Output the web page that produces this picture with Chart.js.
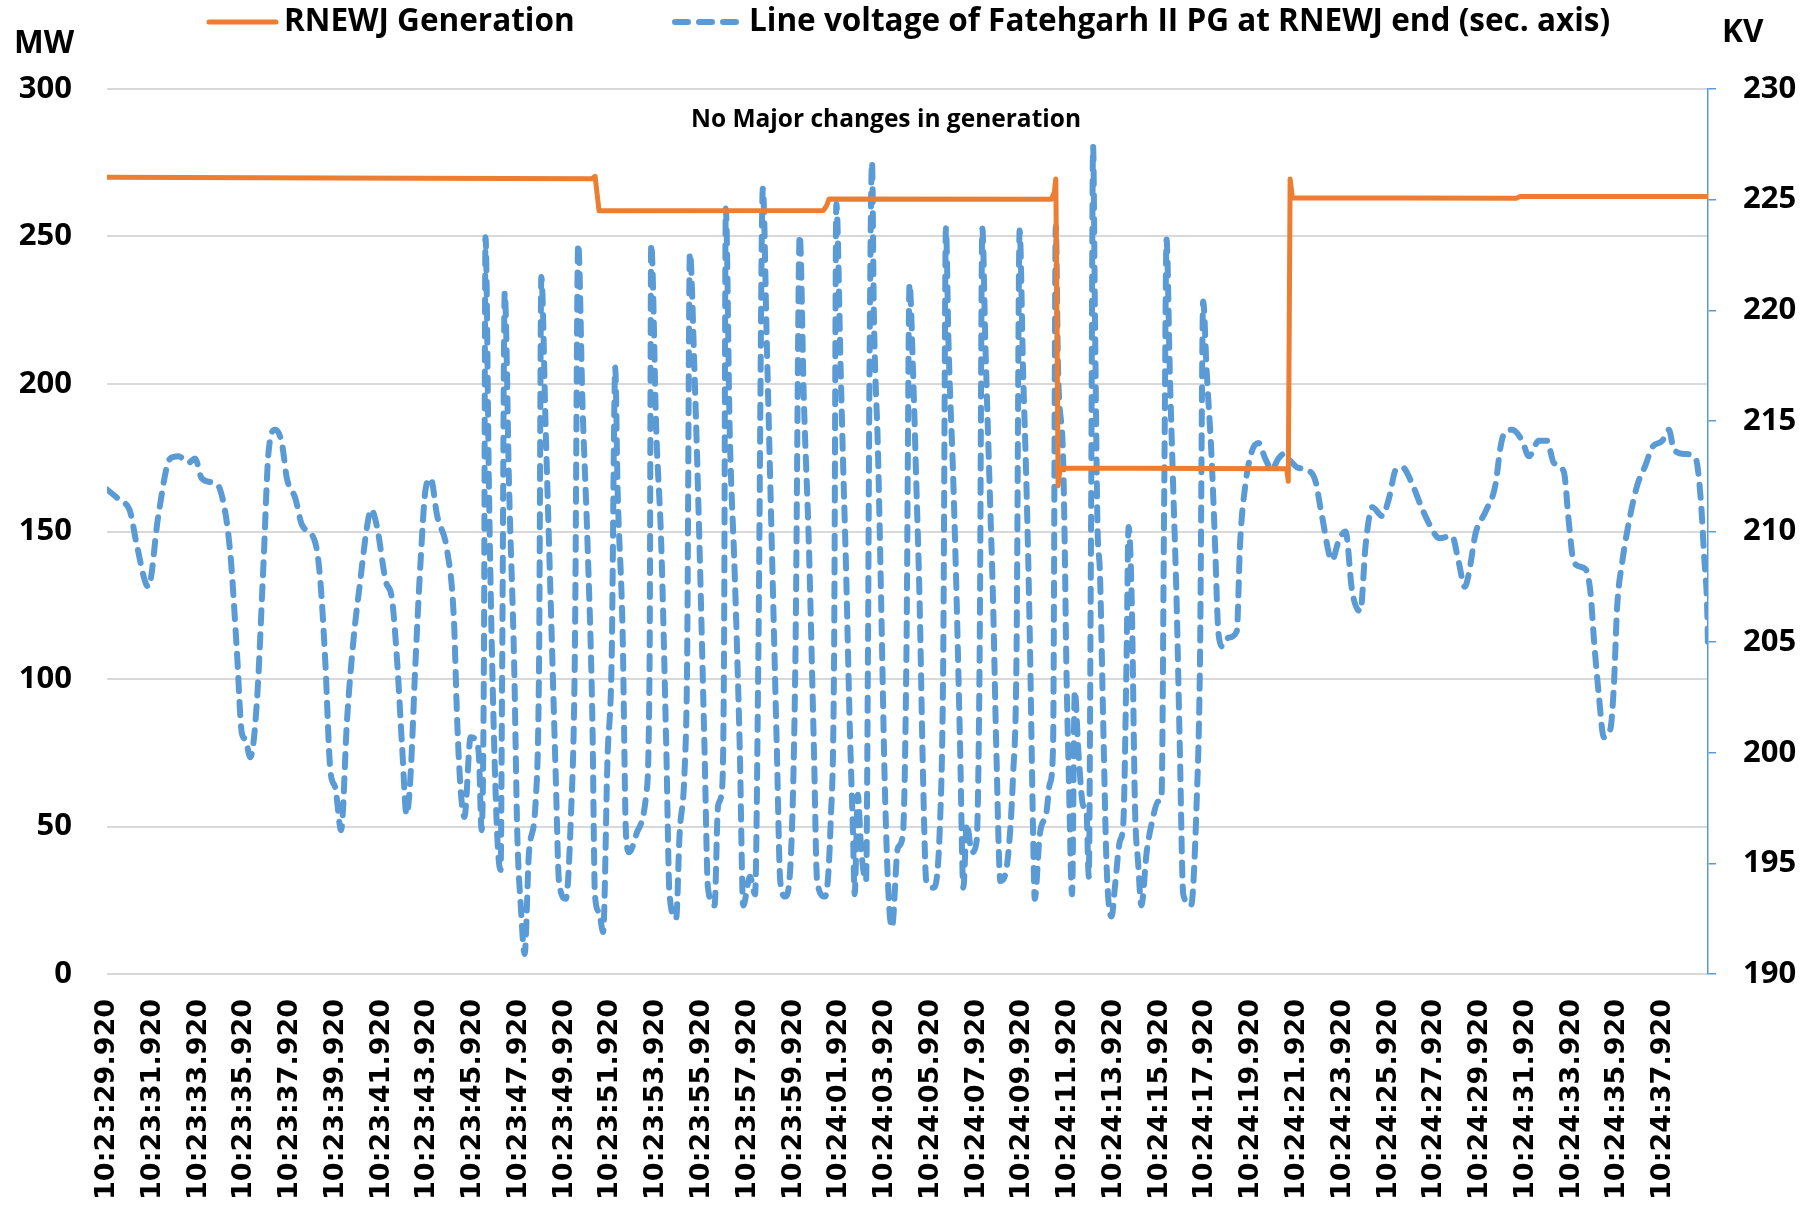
<!DOCTYPE html>
<html>
<head>
<meta charset="utf-8">
<title>RNEWJ Generation vs Line voltage</title>
<script src="https://cdn.jsdelivr.net/npm/chart.js@4.4.1/dist/chart.umd.min.js"></script>
<style>
  html, body { margin: 0; padding: 0; background: #fff; }
  #wrap { width: 1812px; height: 1214px; position: relative; }
</style>
</head>
<body>
<div id="wrap"><canvas id="chart"></canvas></div>
<script>
// x values are seconds after 10:23:29.920
const timeLabels = [
    "10:23:29.920", "10:23:31.920", "10:23:33.920", "10:23:35.920", "10:23:37.920",
    "10:23:39.920", "10:23:41.920", "10:23:43.920", "10:23:45.920", "10:23:47.920",
    "10:23:49.920", "10:23:51.920", "10:23:53.920", "10:23:55.920", "10:23:57.920",
    "10:23:59.920", "10:24:01.920", "10:24:03.920", "10:24:05.920", "10:24:07.920",
    "10:24:09.920", "10:24:11.920", "10:24:13.920", "10:24:15.920", "10:24:17.920",
    "10:24:19.920", "10:24:21.920", "10:24:23.920", "10:24:25.920", "10:24:27.920",
    "10:24:29.920", "10:24:31.920", "10:24:33.920", "10:24:35.920", "10:24:37.920",
];

const genTimes = [0, 10, 21.2, 21.33, 21.5, 31.3, 31.45, 31.55, 41.27, 41.4, 41.46, 41.52, 41.56, 41.65,
    51.55, 51.62, 51.7, 51.8, 61.6, 61.75, 69.96];
const genValues = [270.1, 269.8, 269.6, 270.4, 258.7, 258.8, 260.5, 262.7, 262.6, 265, 269.5, 215, 165.5, 171.5,
    171.3, 167, 269.5, 263.1, 263.0, 263.6, 263.6];

const voltTimes = [
    0, 0.57, 1.01, 1.3, 1.81, 2.24, 2.76, 3.12, 3.56, 3.85, 4.14, 4.65, 4.94, 5.38, 5.67, 5.89, 6.05, 6.26, 6.55, 6.84,
    7.06, 7.35, 7.64, 7.86, 8.23, 8.52, 9.1, 9.32, 9.54, 9.76, 9.98, 10.23, 10.49, 10.78, 11.07, 11.36, 11.54, 11.8,
    12.17, 12.46, 12.68, 12.9, 13.09, 13.26, 13.48, 13.7, 13.92, 14.14, 14.43, 14.87, 15.16, 15.3, 15.45, 15.62,
    15.89, 16.1, 16.25, 16.37, 16.47, 16.54, 16.69, 16.83, 17.05, 17.2, 17.27, 17.38, 17.57, 17.79, 17.93, 18.08,
    18.25, 18.44, 18.73, 18.88, 18.98, 19.17, 19.39, 19.61, 19.75, 20.05, 20.26, 20.44, 20.59, 20.78, 21.0, 21.21,
    21.32, 21.5, 21.68, 21.87, 22.05, 22.21, 22.31, 22.53, 22.68, 22.82, 23.2, 23.56, 23.71, 23.78, 24.0, 24.22,
    24.44, 24.58, 24.87, 25.02, 25.24, 25.35, 25.47, 25.67, 25.89, 26.11, 26.26, 26.55, 26.7, 26.88, 26.96, 27.04,
    27.21, 27.43, 27.65, 27.8, 28.1, 28.32, 28.46, 28.66, 28.83, 29.05, 29.27, 29.42, 29.64, 29.93, 30.08, 30.27,
    30.45, 30.67, 30.89, 31.03, 31.37, 31.62, 31.77, 31.87, 32.06, 32.16, 32.3, 32.45, 32.6, 32.67, 32.81, 32.95,
    33.17, 33.25, 33.32, 33.43, 33.51, 33.69, 33.83, 33.98, 34.15, 34.3, 34.56, 34.78, 34.93, 35.07, 35.22, 35.37,
    35.51, 35.66, 35.8, 36.1, 36.4, 36.54, 36.66, 36.77, 36.99, 37.13, 37.28, 37.42, 37.57, 37.79, 38.0, 38.13,
    38.25, 38.38, 38.57, 38.72, 38.86, 39.04, 39.37, 39.59, 39.74, 39.88, 40.03, 40.18, 40.32, 40.47, 40.54, 40.76,
    41.05, 41.2, 41.34, 41.46, 41.56, 41.78, 41.85, 41.92, 42.03, 42.17, 42.29, 42.45, 42.66, 42.8, 42.9, 43.0,
    43.09, 43.17, 43.28, 43.39, 43.53, 43.68, 43.9, 44.04, 44.26, 44.41, 44.55, 44.64, 44.78, 44.92, 45.06, 45.2,
    45.43, 45.65, 45.94, 46.08, 46.2, 46.3, 46.44, 46.59, 46.74, 46.88, 47.03, 47.37, 47.61, 47.76, 47.9, 48.05,
    48.27, 48.42, 48.56, 48.74, 49.0, 49.37, 49.51, 49.73, 50.02, 50.32, 50.61, 50.9, 51.19, 51.41, 51.7, 52.0,
    52.37, 52.8, 53.09, 53.53, 53.83, 54.12, 54.41, 54.77, 55.0, 55.29, 55.73, 56.02, 56.32, 56.61, 56.97, 57.48,
    57.85, 58.21, 58.77, 59.07, 59.33, 59.51, 59.8, 60.24, 60.67, 60.89, 61.04, 61.4, 61.84, 62.13, 62.57, 62.93,
    63.22, 63.66, 63.88, 64.1, 64.61, 64.83, 64.97, 65.19, 65.41, 65.7, 65.85, 65.99, 66.21, 66.5, 66.87, 67.23,
    67.52, 67.96, 68.25, 68.47, 68.98, 69.42, 69.64, 69.79, 69.93, 69.96,
];
const voltValues = [
    211.9, 211.4, 210.9, 209.4, 207.5, 210.7, 213.3, 213.4, 213.1, 213.3, 212.4, 212.2, 211.9, 209.1, 204.7, 200.9, 200.6, 199.8, 202.3, 208.6,
    213.6, 214.6, 214.0, 212.4, 211.5, 210.3, 209.5, 207.8, 204.1, 199.2, 198.4, 196.5, 201.5, 205.2, 207.8, 210.2, 211.0, 210.2,
    207.8, 206.9, 204.1, 200.2, 197.2, 198.9, 204.1, 208.6, 211.9, 212.4, 210.7, 209.1, 206.0, 201.5, 198.4, 197.1,
    200.7, 200.6, 199.9, 196.5, 204.1, 223.3, 212.0, 204.1, 196.3, 194.7, 204.1, 220.8, 212.0, 204.1, 196.3, 193.1,
    190.9, 195.5, 197.8, 204.1, 221.5, 214.6, 206.8, 198.9, 194.2, 193.4, 196.8, 204.1, 223.0, 215.7, 209.4, 201.5,
    193.6, 192.8, 191.9, 199.7, 204.1, 217.4, 212.0, 205.5, 196.3, 195.5, 196.5, 198.1, 204.1, 223.0, 214.6, 209.4,
    200.2, 193.6, 192.5, 196.3, 199.2, 204.1, 222.6, 217.3, 209.4, 200.2, 193.9, 193.1, 197.6, 198.4, 204.1, 224.6,
    214.6, 208.1, 200.2, 193.1, 194.4, 193.6, 204.1, 225.5, 218.6, 209.4, 200.2, 194.2, 193.5, 196.5, 204.1, 223.4,
    216.0, 209.4, 200.2, 194.2, 193.5, 196.8, 204.1, 224.8, 217.3, 213.3, 208.1, 201.5, 196.3, 193.6, 198.1, 195.7,
    194.2, 204.1, 217.3, 226.7, 219.9, 213.6, 206.8, 198.9, 193.6, 192.1, 195.7, 196.3, 204.1, 221.2, 217.3, 212.0,
    206.8, 198.9, 194.2, 193.9, 196.8, 204.1, 223.7, 218.6, 212.0, 206.8, 200.2, 193.9, 196.8, 195.5, 196.0, 204.1,
    223.7, 218.6, 212.0, 206.8, 200.2, 194.2, 195.3, 198.9, 204.1, 223.6, 217.3, 212.0, 205.5, 196.3, 193.4, 196.3,
    197.3, 198.6, 200.2, 223.8, 217.3, 213.3, 209.4, 204.1, 198.9, 193.6, 202.8, 200.0, 197.6, 197.4, 194.4, 210.0,
    227.4, 219.9, 210.4, 208.1, 201.5, 194.9, 192.6, 193.9, 196.0, 196.8, 204.1, 210.2, 206.8, 197.6, 195.0, 193.1,
    195.5, 196.8, 197.8, 198.0, 212.0, 223.2, 217.3, 212.0, 206.8, 200.2, 193.6, 193.1, 197.6, 204.1, 220.4, 217.3,
    213.3, 209.4, 205.5, 204.8, 205.2, 205.5, 209.4, 212.0, 213.6, 214.0, 213.3, 212.8, 213.3, 213.5, 213.2, 212.9,
    212.8, 212.3, 210.7, 208.7, 209.6, 210.0, 207.3, 206.4, 209.4, 211.1, 210.7, 211.5, 212.8, 212.9, 212.3, 211.0,
    210.2, 209.7, 209.8, 208.6, 207.5, 208.1, 209.9, 210.9, 212.1, 213.8, 214.4, 214.6, 214.1, 213.4, 214.1, 214.1,
    213.1, 212.7, 210.4, 208.6, 208.3, 207.2, 205.2, 202.6, 200.7, 201.1, 203.1, 206.6, 208.6, 210.4, 212.1, 213.0,
    213.8, 214.1, 214.6, 213.7, 213.5, 213.3, 211.5, 208.9, 206.3, 204.6,
];

const ORANGE = "#ED7D31";
const BLUE = "#5B9BD5";
const BOLD_FONT = "'Open Sans', 'Liberation Sans', sans-serif";

const toPoints = (times, values) => times.map((t, i) => ({ x: t, y: values[i] }));

// legend, unit labels and the note are placed like the original sheet
const chartTexts = {
    id: "chartTexts",
    afterDraw(chart) {
        const ctx = chart.ctx;
        ctx.save();
        ctx.fillStyle = "#000";
        ctx.textBaseline = "middle";
        ctx.textAlign = "left";

        const drawSample = (x1, x2, y, ds) => {
            ctx.save();
            ctx.strokeStyle = ds.borderColor;
            ctx.lineWidth = ds.borderWidth;
            ctx.lineCap = ds.borderCapStyle || "round";
            ctx.setLineDash(ds.borderDash || []);
            ctx.beginPath();
            ctx.moveTo(x1, y);
            ctx.lineTo(x2, y);
            ctx.stroke();
            ctx.restore();
        };
        const sets = chart.data.datasets;
        drawSample(209, 276, 22, sets[0]);
        drawSample(675, 740, 22, sets[1]);

        ctx.font = `bold 31.5px ${BOLD_FONT}`;
        ctx.fillText(sets[0].label, 284, 22);
        ctx.fillText(sets[1].label, 749, 22);
        ctx.fillText("MW", 14, 44);
        ctx.fillText("KV", 1722, 33);

        ctx.font = `bold 24.5px ${BOLD_FONT}`;
        ctx.textAlign = "center";
        ctx.fillText("No Major changes in generation", 886, 120);
        ctx.restore();
    },
};

const renderChart = () => {
    const canvas = document.getElementById("chart");

    new Chart(canvas, {
        type: "line",
        data: {
            datasets: [
                {
                    label: "RNEWJ Generation",
                    data: toPoints(genTimes, genValues),
                    yAxisID: "y",
                    borderColor: ORANGE,
                    borderWidth: 5,
                    borderCapStyle: "round",
                    borderJoinStyle: "round",
                    pointRadius: 0,
                    tension: 0,
                    order: 1,
                },
                {
                    label: "Line voltage of Fatehgarh II PG at RNEWJ end (sec. axis)",
                    data: toPoints(voltTimes, voltValues),
                    yAxisID: "y1",
                    borderColor: BLUE,
                    borderWidth: 6,
                    borderDash: [13, 11],
                    borderCapStyle: "round",
                    borderJoinStyle: "round",
                    pointRadius: 0,
                    cubicInterpolationMode: "monotone",
                    order: 2,
                },
            ],
        },
        options: {
            responsive: true,
            maintainAspectRatio: false,
            animation: false,
            devicePixelRatio: 1,
            layout: { padding: { top: 89, left: 0, right: 0, bottom: 0 } },
            scales: {
                x: {
                    type: "linear",
                    min: 0,
                    max: 69.96,
                    grid: { display: false, drawTicks: false },
                    border: { display: false },
                    ticks: {
                        stepSize: 2,
                        includeBounds: false,
                        autoSkip: false,
                        minRotation: 90,
                        maxRotation: 90,
                        padding: 25,
                        color: "#000",
                        font: { family: "'DejaVu Sans', sans-serif", weight: "bold", size: 27 },
                        callback: (value) => timeLabels[Math.round(value / 2)] ?? "",
                    },
                    afterFit: (scale) => { scale.height = 240; },
                },
                y: {
                    position: "left",
                    min: 0,
                    max: 300,
                    grid: { color: "#d9d9d9", lineWidth: 2, drawTicks: false },
                    border: { display: false },
                    ticks: {
                        stepSize: 50,
                        padding: 35,
                        color: "#000",
                        font: { family: BOLD_FONT, weight: "bold", size: 31 },
                    },
                    afterFit: (scale) => { scale.width = 107; },
                },
                y1: {
                    position: "right",
                    min: 190,
                    max: 230,
                    grid: {
                        drawOnChartArea: false,
                        color: BLUE,
                        lineWidth: 1.5,
                        tickLength: 8,
                    },
                    border: { display: true, color: BLUE, width: 1.5, dash: [4, 4] },
                    ticks: {
                        stepSize: 5,
                        padding: 27,
                        color: "#000",
                        font: { family: BOLD_FONT, weight: "bold", size: 31 },
                    },
                    afterFit: (scale) => { scale.width = 104; },
                },
            },
            plugins: {
                legend: { display: false },
                tooltip: { enabled: false },
            },
        },
        plugins: [chartTexts],
    });
};

window.addEventListener("DOMContentLoaded", renderChart);
</script>
</body>
</html>
